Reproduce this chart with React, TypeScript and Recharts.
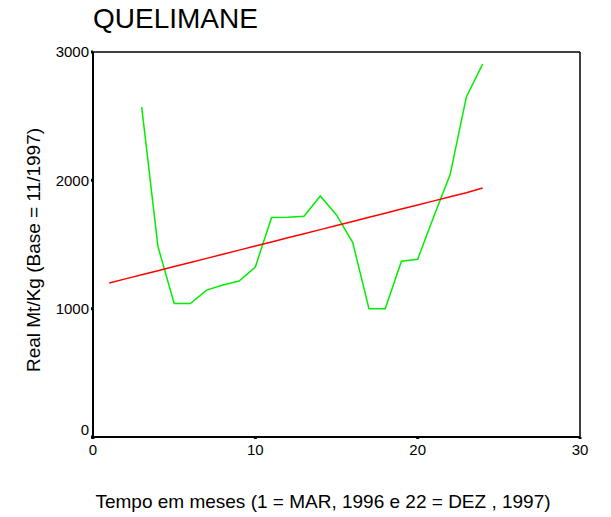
import { LineChart, Line, XAxis, YAxis, ReferenceLine } from "recharts"

const months = [1, 2, 3, 4, 5, 6, 7, 8, 9, 10, 11, 12, 13, 14, 15, 16, 17, 18, 19, 20, 21, 22, 23, 24]
const prices = [null, null, 2570, 1485, 1040, 1040, 1145, 1185, 1215, 1325, 1710, 1712, 1720, 1878, 1730, 1515, 1000, 1000, 1370, 1385, 1720, 2045, 2650, 2905]
const trend = [1200, 1232, 1264, 1296, 1328, 1360, 1392, 1424, 1456, 1488, 1520, 1552, 1584, 1616, 1648, 1680, 1712, 1744, 1776, 1808, 1840, 1872, 1904, 1940]
const xTicks = [0, 10, 20, 30]
const yTicks = [0, 1000, 2000, 3000]

const chartData = months.map((m, i) => ({ month: m, price: prices[i], trend: trend[i] }))

const font = "'Liberation Sans', Arial, sans-serif"

// the 0 label sits a little above its tick in the original
function YTick(props: any) {
  const { x, y, payload } = props
  const lift = payload.value === 0 ? -7 : 0
  return (
    <text x={x} y={y + lift} dy="0.355em" textAnchor="end" fill="#000" fontSize={15} fontFamily={font}>
      {payload.value}
    </text>
  )
}

export default function App() {
  return (
    <div style={{ position: "relative", width: 603, height: 509, fontFamily: font }}>
      <div style={{ position: "absolute", left: 85, top: -5, fontSize: 28, color: "#000", whiteSpace: "nowrap" }}>
        QUELIMANE
      </div>
      <div
        style={{
          position: "absolute",
          left: -124,
          top: 231,
          width: 300,
          textAlign: "center",
          fontSize: 19,
          color: "#000",
          transform: "rotate(-90deg)",
          whiteSpace: "nowrap",
        }}
      >
        Real Mt/Kg (Base = 11/1997)
      </div>
      <LineChart
        width={603}
        height={509}
        data={chartData}
        margin={{ top: 44, right: 31, bottom: 50, left: 25 }}
      >
        <XAxis
          dataKey="month"
          type="number"
          domain={[0, 30]}
          ticks={xTicks}
          axisLine={{ stroke: "#000", strokeWidth: 2 }}
          tickLine={{ stroke: "#000", strokeWidth: 3 }}
          tickSize={2}
          tickMargin={5}
          height={30}
          tick={{ fill: "#000", fontSize: 15, fontFamily: font }}
        />
        <YAxis
          type="number"
          domain={[0, 3000]}
          ticks={yTicks}
          axisLine={{ stroke: "#000", strokeWidth: 2 }}
          tickLine={{ stroke: "#000", strokeWidth: 3 }}
          tickSize={2}
          width={60}
          tick={<YTick />}
        />
        <ReferenceLine y={3000} stroke="#000" strokeWidth={1.5} />
        <ReferenceLine x={30} stroke="#000" strokeWidth={1.5} />
        <Line
          dataKey="price"
          stroke="#00ee00"
          strokeWidth={1.5}
          dot={false}
          connectNulls={false}
          isAnimationActive={false}
        />
        <Line
          dataKey="trend"
          stroke="#ff0000"
          strokeWidth={1.5}
          dot={false}
          isAnimationActive={false}
        />
      </LineChart>
      <div
        style={{
          position: "absolute",
          left: 0,
          width: 630,
          top: 483,
          textAlign: "center",
          fontSize: 19,
          color: "#000",
          whiteSpace: "nowrap",
        }}
      >
        Tempo em meses (1 = MAR, 1996 e 22 = DEZ , 1997)
      </div>
    </div>
  )
}
